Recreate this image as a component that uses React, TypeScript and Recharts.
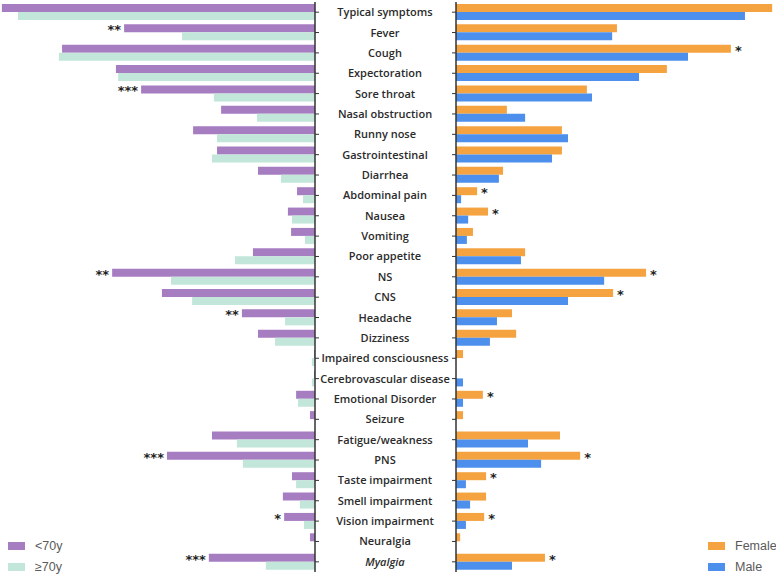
import React from 'react';
import { BarChart, Bar, XAxis, YAxis, Legend, LabelList } from 'recharts';

const categories = [
  'Typical symptoms', 'Fever', 'Cough', 'Expectoration', 'Sore throat', 'Nasal obstruction',
  'Runny nose', 'Gastrointestinal', 'Diarrhea', 'Abdominal pain', 'Nausea', 'Vomiting',
  'Poor appetite', 'NS', 'CNS', 'Headache', 'Dizziness', 'Impaired  consciousness',
  'Cerebrovascular disease', 'Emotional Disorder', 'Seizure', 'Fatigue/weakness', 'PNS',
  'Taste impairment', 'Smell impairment', 'Vision impairment', 'Neuralgia', 'Myalgia',
];

// age groups (%)
const under70 = [99.4, 60.6, 80.3, 63.2, 55.2, 29.8, 38.7, 31.1, 18.1, 5.7, 8.6, 7.6, 19.7, 64.4,
  48.6, 23.2, 18.1, 0.3, 0.3, 6.0, 1.6, 32.7, 47.0, 7.3, 10.2, 9.8, 1.6, 33.7];
const over70 = [94.3, 42.2, 81.3, 62.5, 32.1, 18.4, 31.1, 32.7, 10.8, 3.8, 7.3, 3.2, 25.4, 45.7,
  39.0, 9.5, 12.7, 1.0, 1.0, 5.4, 0, 24.8, 22.9, 6.0, 4.8, 3.5, 0, 15.6];
const ageSig = ['', '**', '', '', '***', '', '', '', '', '', '', '', '', '**',
  '', '**', '', '', '', '', '', '', '***', '', '', '*', '', '***'];

// sex groups (%)
const female = [98.8, 50.3, 85.9, 65.9, 40.9, 15.9, 33.1, 33.1, 14.7, 6.6, 10.0, 5.3, 21.6, 59.4,
  49.1, 17.5, 18.8, 2.2, 0, 8.4, 2.2, 32.5, 38.8, 9.4, 9.4, 8.8, 1.3, 27.8];
const male = [90.3, 48.8, 72.5, 57.2, 42.5, 21.6, 35.0, 30.0, 13.4, 1.6, 3.8, 3.4, 20.3, 46.3,
  35.0, 12.8, 10.6, 0, 2.2, 2.2, 0, 22.5, 26.6, 3.1, 4.4, 3.1, 0, 17.5];
const sexSig = ['', '', '*', '', '', '', '', '', '', '*', '*', '', '', '*',
  '*', '', '', '', '', '*', '', '', '*', '*', '', '*', '', '*'];

const PURPLE = '#a77dc2';
const MINT = '#c2e6da';
const ORANGE = '#f4a340';
const BLUE = '#4d8fec';
const AXIS = '#333';

const ageData = categories.map((name, i) => ({ name, young: under70[i], old: over70[i], sig: ageSig[i] }));
const sexData = categories.map((name, i) => ({ name, female: female[i], male: male[i], sig: sexSig[i] }));

const CategoryTick = (props: any) => {
  const { y, payload } = props;
  return (
    <text x={385} y={y} dy={4} textAnchor="middle" fontSize={11} fontWeight={600}
      fontFamily="'Open Sans', sans-serif" fill="#2b2b2b"
      fontStyle={payload.value === 'Myalgia' ? 'italic' : 'normal'}>
      {payload.value}
    </text>
  );
};

const SigLeft = (props: any) => {
  const { x, y, width, height, value } = props;
  if (!value) return null;
  const left = Math.min(x, x + width);
  return (
    <text x={left - 3} y={y + height / 2 + 6} textAnchor="end" fontSize={13} fontWeight={700}
      fontFamily="'DejaVu Sans', sans-serif" fill="#222">{value}</text>
  );
};

const SigRight = (props: any) => {
  const { x, y, width, height, value } = props;
  if (!value) return null;
  const right = Math.max(x, x + width);
  return (
    <text x={right + 4} y={y + height / 2 + 6} textAnchor="start" fontSize={13} fontWeight={700}
      fontFamily="'DejaVu Sans', sans-serif" fill="#222">{value}</text>
  );
};

const makeLegend = (items: { label: string; color: string }[]) => () => (
  <div style={{ fontFamily: "'Liberation Sans', Arial, sans-serif", fontSize: 12.5, color: '#5a5a5a' }}>
    {items.map((it) => (
      <div key={it.label} style={{ display: 'flex', alignItems: 'center', height: 21 }}>
        <div style={{ width: 17, height: 8, background: it.color, marginRight: 10 }} />
        <span>{it.label}</span>
      </div>
    ))}
  </div>
);

export default function App() {
  return (
    <div style={{ position: 'absolute', left: 0, top: 0, width: 776, height: 576, background: '#fff' }}>
      <div style={{ position: 'absolute', left: 0, top: 0 }}>
        <BarChart width={456} height={576} data={ageData} layout="vertical"
          margin={{ top: 2, right: 0, bottom: 4, left: 0 }} barSize={8} barGap={0}>
          <XAxis type="number" domain={[0, 100]} reversed hide />
          <YAxis type="category" dataKey="name" orientation="right" width={141} interval={0}
            axisLine={{ stroke: AXIS, strokeWidth: 1.5 }} tickLine={{ stroke: AXIS }} tickSize={4}
            tick={<CategoryTick />} />
          <Legend layout="vertical" align="center" verticalAlign="middle"
            wrapperStyle={{ position: 'absolute', left: 8, top: 535, width: 80 }}
            content={makeLegend([{ label: '<70y', color: PURPLE }, { label: '≥70y', color: MINT }])} />
          <Bar dataKey="young" fill={PURPLE} isAnimationActive={false}>
            <LabelList dataKey="sig" content={<SigLeft />} />
          </Bar>
          <Bar dataKey="old" fill={MINT} isAnimationActive={false} />
        </BarChart>
      </div>
      <div style={{ position: 'absolute', left: 440, top: 0 }}>
        <BarChart width={336} height={576} data={sexData} layout="vertical"
          margin={{ top: 2, right: 0, bottom: 4, left: 0 }} barSize={8} barGap={0}>
          <XAxis type="number" domain={[0, 100]} hide />
          <YAxis type="category" dataKey="name" orientation="left" width={16} interval={0}
            axisLine={{ stroke: AXIS, strokeWidth: 1.5 }} tickLine={{ stroke: AXIS }} tickSize={4}
            tickFormatter={() => ''} />
          <Legend layout="vertical" align="center" verticalAlign="middle"
            wrapperStyle={{ position: 'absolute', left: 268, top: 535, width: 70 }}
            content={makeLegend([{ label: 'Female', color: ORANGE }, { label: 'Male', color: BLUE }])} />
          <Bar dataKey="female" fill={ORANGE} isAnimationActive={false}>
            <LabelList dataKey="sig" content={<SigRight />} />
          </Bar>
          <Bar dataKey="male" fill={BLUE} isAnimationActive={false} />
        </BarChart>
      </div>
    </div>
  );
}
